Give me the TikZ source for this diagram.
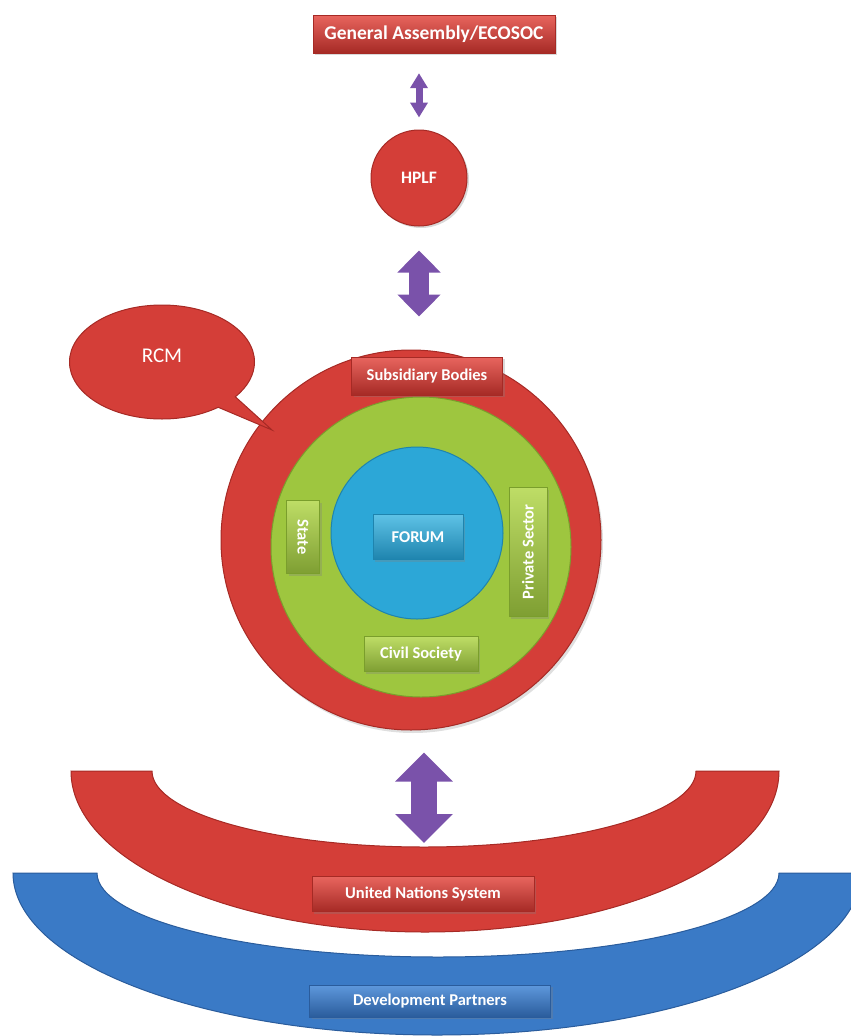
\documentclass[tikz,border=0pt]{standalone}
\usepackage{fontspec}
\setmainfont{Carlito}
\usetikzlibrary{arrows.meta,shapes.callouts,shadows}

\definecolor{unred}{HTML}{D43E38}
\definecolor{darkred}{HTML}{A62A25}
\definecolor{lightred}{HTML}{E8655E}
\definecolor{leaf}{HTML}{9EC63F}
\definecolor{darkleaf}{HTML}{7A9E2C}
\definecolor{lightleaf}{HTML}{BEDD66}
\definecolor{sky}{HTML}{2CA7D7}
\definecolor{darksky}{HTML}{1E84AE}
\definecolor{lightsky}{HTML}{5EC2E6}
\definecolor{navy}{HTML}{3A7AC6}
\definecolor{darknavy}{HTML}{2A5C9C}
\definecolor{lightnavy}{HTML}{5E98DC}
\definecolor{grape}{HTML}{7A52AA}

\tikzset{
  boxtext/.style={text=white, font=\bfseries\fontsize{16.5}{18}\selectfont, inner sep=2pt},
  redbox/.style={boxtext, draw=darkred, top color=lightred, bottom color=darkred,
    drop shadow={opacity=0.3, shadow xshift=2pt, shadow yshift=-2pt}},
  greenbox/.style={boxtext, draw=darkleaf, top color=lightleaf, bottom color=leaf!80!black,
    drop shadow={opacity=0.3, shadow xshift=2pt, shadow yshift=-2pt}},
  skybox/.style={boxtext, draw=darksky, top color=lightsky, bottom color=darksky,
    drop shadow={opacity=0.3, shadow xshift=2pt, shadow yshift=-2pt}},
  navybox/.style={boxtext, draw=darknavy, top color=lightnavy, bottom color=darknavy,
    drop shadow={opacity=0.3, shadow xshift=2pt, shadow yshift=-2pt}},
  disc/.style={circle, inner sep=0pt, line width=1pt},
  updown/.style={grape, line width=#1},
}

\begin{document}
\begin{tikzpicture}[x=1pt, y=-1pt]
\useasboundingbox (0,0) rectangle (851,1036);
\clip (0,0) rectangle (851,1036);

\node[redbox, minimum width=242pt, minimum height=38pt, font=\bfseries\fontsize{19.5}{21}\selectfont] (ga) at (434,34) {General Assembly/ECOSOC};

\node[disc, fill=unred, draw=darkred, minimum size=96pt, text=white, font=\bfseries\fontsize{17.5}{19}\selectfont,
  drop shadow={opacity=0.3, shadow xshift=2pt, shadow yshift=-2pt}] (hplf) at (419,178) {HPLF};

\node[disc, fill=unred, draw=darkred, minimum size=380pt,
  drop shadow={opacity=0.25, shadow xshift=2pt, shadow yshift=-3pt}] (ring) at (411,540) {};
\node[disc, fill=leaf, draw=darkleaf, minimum size=300pt] (civic) at (421,547) {};
\node[disc, fill=sky, draw=darksky, minimum size=172pt] (core) at (417,533) {};

\node[ellipse callout, callout absolute pointer={(272,430)}, fill=unred, draw=darkred, line width=1pt,
  minimum width=185pt, minimum height=114pt, text=white, font=\fontsize{21}{23}\selectfont] (rcm) at (162,362) {\raisebox{12pt}{RCM}};

\node[redbox, minimum width=151pt, minimum height=38pt] (sub) at (427,376) {Subsidiary Bodies};
\node[skybox, minimum width=90pt, minimum height=45pt] (forum) at (418,537) {FORUM};
\node[greenbox, rotate=-90, minimum width=73pt, minimum height=33pt] (state) at (303,537) {State};
\node[greenbox, rotate=90, minimum width=129pt, minimum height=38pt] (private) at (528,552) {Private Sector};
\node[greenbox, minimum width=114pt, minimum height=35pt] (civil) at (421,654) {Civil Society};

\fill[navy, draw=darknavy, line width=1pt] (13,873) arc[start angle=180, end angle=360, x radius=424pt, y radius=162pt]
  -- (779,873) arc[start angle=0, end angle=-180, x radius=341pt, y radius=84pt] -- cycle;
\fill[unred, draw=darkred, line width=1pt] (71,771) arc[start angle=180, end angle=360, x radius=354pt, y radius=161pt]
  -- (696,771) arc[start angle=0, end angle=-180, x radius=272pt, y radius=76pt] -- cycle;

\node[redbox, minimum width=222pt, minimum height=35pt] (un) at (423,894) {United Nations System};
\node[navybox, minimum width=241pt, minimum height=32pt] (dp) at (430,1001) {Development Partners};

\coordinate (untip) at (424,843);

\draw[updown=7pt, {Triangle[width=17pt,length=15pt]}-{Triangle[width=17pt,length=15pt]}, shorten <=20pt, shorten >=12pt]
  (hplf.north |- ga.south) -- (hplf.north);
\draw[updown=20pt, {Triangle[width=42pt,length=22pt]}-{Triangle[width=42pt,length=22pt]}, shorten <=24pt, shorten >=33pt]
  (hplf.south) -- (hplf.south |- ring.north);
\draw[updown=26pt, {Triangle[width=56pt,length=29pt]}-{Triangle[width=56pt,length=29pt]}, shorten <=22pt]
  (untip |- ring.south) -- (untip);
\end{tikzpicture}
\end{document}
